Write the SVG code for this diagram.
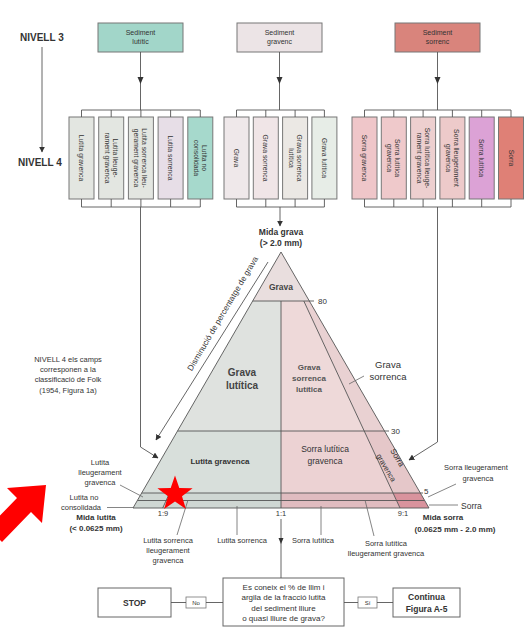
<svg xmlns="http://www.w3.org/2000/svg" width="529" height="627" viewBox="0 0 529 627">
<defs>
<style>
text{font-family:"Liberation Sans",Arial,sans-serif;fill:#333}
.lvl{font-size:10px;font-weight:bold}
.n3{font-size:7px;text-anchor:middle}
.n4{font-size:6.8px;text-anchor:middle}
.bx{stroke:#777;stroke-width:1}
.ln{fill:none;stroke:#555;stroke-width:0.9}
.tl{fill:none;stroke:#666;stroke-width:0.8}
.lab{font-size:7.5px;text-anchor:middle}
.bold{font-weight:bold}
.mid{text-anchor:middle}
</style>
<marker id="ah" viewBox="0 0 10 10" refX="9" refY="5" markerWidth="6" markerHeight="6" orient="auto-start-reverse" markerUnits="userSpaceOnUse">
<path d="M0,0 L10,5 L0,10 z" fill="#333"/>
</marker>
</defs>
<rect width="529" height="627" fill="#fff"/>

<!-- level labels -->
<g id="nivell3-label"><text class="lvl" x="20" y="41">NIVELL 3</text></g>
<g id="nivell4-label"><text class="lvl" x="18" y="166">NIVELL 4</text></g>

<!-- Level 3 nodes -->
<g id="n3-lutitic"><rect class="bx" x="98" y="23" width="85" height="29" fill="#a2d6c9"/><text class="n3" x="140.5" y="35">Sediment</text><text class="n3" x="140.5" y="44">lutític</text></g>
<g id="n3-gravenc"><rect class="bx" x="237" y="23" width="85" height="29" fill="#ece4e6"/><text class="n3" x="279.5" y="35">Sediment</text><text class="n3" x="279.5" y="44">gravenc</text></g>
<g id="n3-sorrenc"><rect class="bx" x="395" y="23" width="85" height="29" fill="#d9847c"/><text class="n3" x="437.5" y="35">Sediment</text><text class="n3" x="437.5" y="44">sorrenc</text></g>

<!-- Level 4 nodes: lutitic -->
<g id="n4-l1"><rect class="bx" x="69" y="117" width="25" height="82" fill="#e3e6e1"/><text class="n4" transform="translate(81.5,158) rotate(90)" y="2.5">Lutita gravenca</text></g>
<g id="n4-l2"><rect class="bx" x="98.7" y="117" width="25" height="82" fill="#e3e6e1"/><text class="n4" transform="translate(111.2,158) rotate(90)"><tspan x="0" y="-1.5">Lutita lleuge-</tspan><tspan x="0" y="6.5">rament gravenca</tspan></text></g>
<g id="n4-l3"><rect class="bx" x="128.4" y="117" width="25" height="82" fill="#e3e6e1"/><text class="n4" transform="translate(140.9,158) rotate(90)"><tspan x="0" y="-1.5">Lutita sorrenca lleu-</tspan><tspan x="0" y="6.5">gerament gravenca</tspan></text></g>
<g id="n4-l4"><rect class="bx" x="158.1" y="117" width="25" height="82" fill="#e7dee7"/><text class="n4" transform="translate(170.6,158) rotate(90)" y="2.5">Lutita sorrenca</text></g>
<g id="n4-l5"><rect class="bx" x="187.8" y="117" width="25" height="82" fill="#a6d9cc"/><text class="n4" transform="translate(200.3,158) rotate(90)"><tspan x="0" y="-1.5">Lutita no</tspan><tspan x="0" y="6.5">consolidada</tspan></text></g>

<!-- Level 4 nodes: gravenc -->
<g id="n4-g1"><rect class="bx" x="224" y="117" width="25" height="82" fill="#efe8ea"/><text class="n4" transform="translate(236.5,158) rotate(90)" y="2.5">Grava</text></g>
<g id="n4-g2"><rect class="bx" x="253.3" y="117" width="25" height="82" fill="#f0e5e7"/><text class="n4" transform="translate(265.8,158) rotate(90)" y="2.5">Grava sorrenca</text></g>
<g id="n4-g3"><rect class="bx" x="282.6" y="117" width="25" height="82" fill="#ebe8e4"/><text class="n4" transform="translate(295.1,158) rotate(90)"><tspan x="0" y="-1.5">Grava sorrenca</tspan><tspan x="0" y="6.5">lutítica</tspan></text></g>
<g id="n4-g4"><rect class="bx" x="311.9" y="117" width="25" height="82" fill="#e7ede7"/><text class="n4" transform="translate(324.4,158) rotate(90)" y="2.5">Grava lutítica</text></g>

<!-- Level 4 nodes: sorrenc -->
<g id="n4-s1"><rect class="bx" x="352" y="117" width="25" height="82" fill="#efc6c9"/><text class="n4" transform="translate(364.5,158) rotate(90)" y="2.5">Sorra gravenca</text></g>
<g id="n4-s2"><rect class="bx" x="381.3" y="117" width="25" height="82" fill="#efc9cb"/><text class="n4" transform="translate(393.8,158) rotate(90)"><tspan x="0" y="-1.5">Sorra lutítica</tspan><tspan x="0" y="6.5">gravenca</tspan></text></g>
<g id="n4-s3"><rect class="bx" x="410.6" y="117" width="25" height="82" fill="#edcfcf"/><text class="n4" transform="translate(423.1,158) rotate(90)"><tspan x="0" y="-1.5">Sorra lutítica lleuge-</tspan><tspan x="0" y="6.5">rament gravenca</tspan></text></g>
<g id="n4-s4"><rect class="bx" x="439.9" y="117" width="25" height="82" fill="#edcaca"/><text class="n4" transform="translate(452.4,158) rotate(90)"><tspan x="0" y="-1.5">Sorra lleugerament</tspan><tspan x="0" y="6.5">gravenca</tspan></text></g>
<g id="n4-s5"><rect class="bx" x="469.2" y="117" width="25" height="82" fill="#dca2d6"/><text class="n4" transform="translate(481.7,158) rotate(90)" y="2.5">Sorra lutítica</text></g>
<g id="n4-s6"><rect class="bx" x="498.5" y="117" width="25" height="82" fill="#df8076"/><text class="n4" transform="translate(511,158) rotate(90)" y="2.5">Sorra</text></g>

<!-- Folk note -->
<g id="folk-note">
<text class="lab" x="68" y="362">NIVELL 4 els camps</text>
<text class="lab" x="68" y="372">corresponen a la</text>
<text class="lab" x="68" y="382">classificació de Folk</text>
<text class="lab" x="68" y="393">(1954, Figura 1a)</text>
</g>

<!-- Ternary diagram -->
<g id="triangle">
<polygon points="281,252 252.7,301 309.3,301" fill="#e9dede"/>
<polygon points="252.7,301 281,301 281,431 177.5,431" fill="#dfe2df"/>
<polygon points="281,301 303.8,301 364.2,431 281,431" fill="#eed9d9"/>
<polygon points="303.8,301 309.3,301 384.5,431 364.2,431" fill="#e9d1d2"/>
<polygon points="177.5,431 281,431 281,493 141.7,493" fill="#d8dfdb"/>
<polygon points="281,431 364.2,431 393,493 281,493" fill="#ecd2d3"/>
<polygon points="364.2,431 384.5,431 420.3,493 393,493" fill="#e5c7c9"/>
<polygon points="141.7,493 281,493 281,508 133,508" fill="#cfd7d3"/>
<polygon points="281,493 393,493 400,508 281,508" fill="#e0bcc0"/>
<polygon points="393,493 420.3,493 429,508 400,508" fill="#d9939d"/>
<polygon class="ln" points="281,252 429,508 133,508"/>
<line class="ln" x1="252.7" y1="301" x2="314" y2="301"/>
<line class="ln" x1="177.5" y1="431" x2="389" y2="431"/>
<line class="ln" x1="141.7" y1="493" x2="423" y2="493"/>
<line class="ln" x1="137.6" y1="500.5" x2="424.4" y2="500.5" stroke="#888"/>
<line class="ln" x1="281" y1="301" x2="281" y2="508"/>
<line class="ln" x1="303.8" y1="301" x2="400" y2="508"/>
<line class="ln" x1="169.6" y1="493" x2="162.7" y2="508"/>
<text x="318" y="304" style="font-size:8px">80</text>
<text x="391" y="434" style="font-size:8px">30</text>
<text x="424" y="494" style="font-size:8px">5</text>
<text class="lab" x="163" y="516">1:9</text>
<text class="lab" x="281" y="516">1:1</text>
<text class="lab" x="403" y="516">9:1</text>
<text class="mid bold" x="281" y="290" style="font-size:8.5px;fill:#444">Grava</text>
<text class="mid bold" x="242" y="376" style="font-size:10px;fill:#444">Grava</text>
<text class="mid bold" x="242" y="389" style="font-size:10px;fill:#444">lutítica</text>
<text class="mid bold" x="309" y="370" style="font-size:8px;fill:#555">Grava</text>
<text class="mid bold" x="309" y="381" style="font-size:8px;fill:#555">sorrenca</text>
<text class="mid bold" x="309" y="392" style="font-size:8px;fill:#555">lutítica</text>
<text class="mid bold" x="220" y="464" style="font-size:8px;fill:#333">Lutita gravenca</text>
<text class="mid" x="325" y="452" style="font-size:8.5px;fill:#333">Sorra lutítica</text>
<text class="mid" x="325" y="464" style="font-size:8.5px;fill:#333">gravenca</text>
<text class="mid" transform="translate(395,459) rotate(60)" style="font-size:8px">Sorra</text>
<text class="mid" transform="translate(384,469) rotate(60)" style="font-size:7.5px">gravenca</text>
<text class="mid" transform="translate(225,315) rotate(-59.5)" style="font-size:8.2px">Disminució de percentatge de grava</text>
</g>

<!-- side labels -->
<g id="labels">
<text class="mid bold" x="281" y="235" style="font-size:8.5px">Mida grava</text>
<text class="mid bold" x="281" y="246" style="font-size:8.5px">(&gt; 2.0 mm)</text>
<text class="mid" x="388" y="368" style="font-size:9.5px">Grava</text>
<text class="mid" x="388" y="380" style="font-size:9.5px">sorrenca</text>
<text class="lab" x="100" y="465">Lutita</text>
<text class="lab" x="100" y="475">lleugerament</text>
<text class="lab" x="100" y="485">gravenca</text>
<text class="lab" x="84" y="500">Lutita no</text>
<text class="lab" x="81" y="510">consolidada</text>
<text class="mid bold" x="96" y="520" style="font-size:8px">Mida lutita</text>
<text class="mid bold" x="96" y="531" style="font-size:8px">(&lt; 0.0625 mm)</text>
<text class="lab" x="476" y="470">Sorra lleugerament</text>
<text class="lab" x="478" y="481">gravenca</text>
<text x="461" y="509" style="font-size:8.5px">Sorra</text>
<text class="mid bold" x="443" y="520" style="font-size:8px">Mida sorra</text>
<text class="mid bold" x="455" y="532" style="font-size:8px">(0.0625 mm - 2.0 mm)</text>
<text class="lab" x="168" y="543">Lutita sorrenca</text>
<text class="lab" x="168" y="553">lleugerament</text>
<text class="lab" x="168" y="563">gravenca</text>
<text class="lab" x="242" y="543">Lutita sorrenca</text>
<text class="lab" x="313" y="543">Sorra lutítica</text>
<text class="lab" x="386" y="546">Sorra lutítica</text>
<text class="lab" x="386" y="556">lleugerament gravenca</text>
</g>

<!-- flow nodes -->
<g id="decision"><rect x="223" y="578" width="121" height="48" fill="#fff" stroke="#666" stroke-width="1"/>
<text class="lab" x="283.5" y="590" style="font-size:8px">Es coneix el % de llim i</text>
<text class="lab" x="283.5" y="600" style="font-size:8px">argila de la fracció lutita</text>
<text class="lab" x="283.5" y="611" style="font-size:8px">del sediment lliure</text>
<text class="lab" x="283.5" y="621" style="font-size:8px">o quasi lliure de grava?</text></g>
<g id="stop"><rect x="98" y="588" width="73" height="29" fill="#fff" stroke="#666"/><text class="mid bold" x="134.5" y="606" style="font-size:8.5px">STOP</text></g>
<g id="no"><rect x="186" y="597" width="20" height="11" fill="#fff" stroke="#777" stroke-width="0.8"/><text class="mid" x="196" y="605" style="font-size:6px">No</text></g>
<g id="si"><rect x="358" y="597" width="19" height="11" fill="#fff" stroke="#777" stroke-width="0.8"/><text class="mid" x="367.5" y="605" style="font-size:6px">Sí</text></g>
<g id="continua"><rect x="393" y="588" width="67" height="29" fill="#fff" stroke="#666"/><text class="mid bold" x="426.5" y="600" style="font-size:8.5px">Continua</text><text class="mid bold" x="426.5" y="612" style="font-size:8.5px">Figura A-5</text></g>

<!-- connectors -->
<g id="connectors">
<line class="ln" x1="42" y1="47" x2="42" y2="152" marker-end="url(#ah)"/>
<!-- lutitic -->
<path class="ln" d="M140.5,52 V110 M81.5,110 H200.3 M81.5,110 V117 M111.2,110 V117 M140.9,110 V117 M170.6,110 V117 M200.3,110 V117"/>
<path d="M137.5,77 L143.5,77 L140.5,84 z" fill="#333"/>
<path class="ln" d="M81.5,199 V207 M111.2,199 V207 M140.9,199 V207 M170.6,199 V207 M200.3,199 V207 M81.5,207 H200.3"/>
<path class="ln" d="M140.5,207 V447 L158,458" marker-end="url(#ah)"/>
<!-- gravenc -->
<path class="ln" d="M279.5,52 V110 M236.5,110 H324.4 M236.5,110 V117 M265.8,110 V117 M295.1,110 V117 M324.4,110 V117"/>
<path d="M276.5,77 L282.5,77 L279.5,84 z" fill="#333"/>
<path class="ln" d="M236.5,199 V207 M265.8,199 V207 M295.1,199 V207 M324.4,199 V207 M236.5,207 H324.4"/>
<path class="ln" d="M280,207 V226" marker-end="url(#ah)"/>
<!-- sorrenc -->
<path class="ln" d="M437.5,52 V110 M364.5,110 H511 M364.5,110 V117 M393.8,110 V117 M423.1,110 V117 M452.4,110 V117 M481.7,110 V117 M511,110 V117"/>
<path d="M434.5,77 L440.5,77 L437.5,84 z" fill="#333"/>
<path class="ln" d="M364.5,199 V207 M393.8,199 V207 M423.1,199 V207 M452.4,199 V207 M481.7,199 V207 M511,199 V207 M364.5,207 H511"/>
<path class="ln" d="M437.5,207 V442 L409,460" marker-end="url(#ah)"/>
<!-- gravel decrease arrow -->
<line class="ln" x1="268" y1="262" x2="156" y2="440" marker-end="url(#ah)"/>
<!-- leaders -->
<line class="tl" x1="349" y1="384" x2="364" y2="376"/>
<line class="tl" x1="120" y1="485" x2="143" y2="497"/>
<line class="tl" x1="107" y1="507.5" x2="134" y2="507.5"/>
<line class="tl" x1="428" y1="497" x2="456" y2="484"/>
<line class="tl" x1="429" y1="505" x2="458" y2="505"/>
<line class="tl" x1="188" y1="500" x2="177" y2="535"/>
<line class="tl" x1="237" y1="506" x2="237" y2="535"/>
<line class="tl" x1="321" y1="506" x2="321" y2="535"/>
<line class="tl" x1="365" y1="500" x2="374" y2="536"/>
<!-- decision flow -->
<line class="ln" x1="281" y1="519" x2="281" y2="578"/>
<path d="M278.5,538 L283.5,538 L281,544 z" fill="#333"/>
<path class="ln" d="M171,602.5 H186 M206,602.5 H223 M344,602.5 H358 M377,602.5 H393"/>
</g>

<!-- red annotations -->
<g id="annotations">
<polygon points="46,485 42,523 31,512 2,542 -12,528 17,498 7,488" fill="#f00"/>
<polygon points="175,475.5 179.3,488.1 192.6,488.3 182,496.3 185.9,509 175,501.4 164.1,509 168,496.3 157.4,488.3 170.7,488.1" fill="#f00"/>
</g>
</svg>
